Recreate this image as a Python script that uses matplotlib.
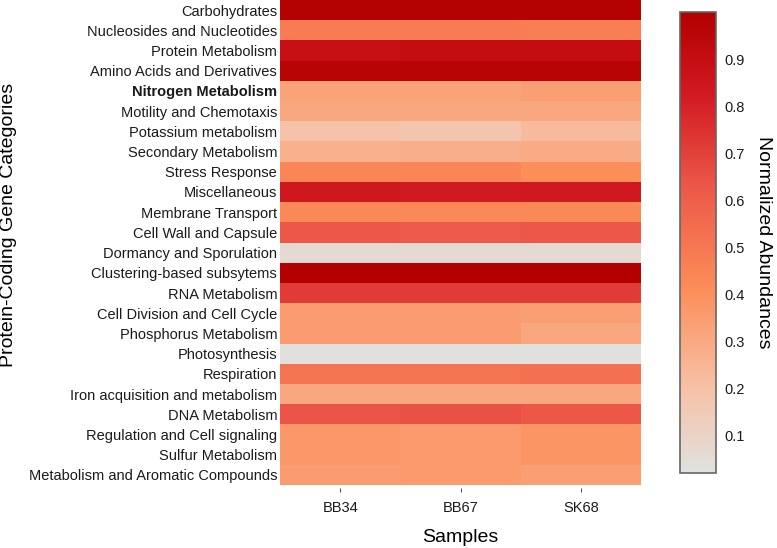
import numpy as np
import matplotlib
matplotlib.use("Agg")
import matplotlib.pyplot as plt
from matplotlib.colors import LinearSegmentedColormap, Normalize

plt.rcParams['font.family'] = ['Liberation Sans', 'DejaVu Sans']

# data
categories = ["Carbohydrates", "Nucleosides and Nucleotides", "Protein Metabolism",
              "Amino Acids and Derivatives", "Nitrogen Metabolism", "Motility and Chemotaxis",
              "Potassium metabolism", "Secondary Metabolism", "Stress Response",
              "Miscellaneous", "Membrane Transport", "Cell Wall and Capsule",
              "Dormancy and Sporulation", "Clustering-based subsytems", "RNA Metabolism",
              "Cell Division and Cell Cycle", "Phosphorus Metabolism", "Photosynthesis",
              "Respiration", "Iron acquisition and metabolism", "DNA Metabolism",
              "Regulation and Cell signaling", "Sulfur Metabolism",
              "Metabolism and Aromatic Compounds"]
samples = ["BB34", "BB67", "SK68"]

bb34 = [0.99, 0.48, 0.89, 0.97, 0.33, 0.31, 0.19, 0.27, 0.44, 0.84, 0.43, 0.63,
        0.06, 1.00, 0.72, 0.35, 0.35, 0.02, 0.52, 0.31, 0.64, 0.37, 0.37, 0.35]
bb67 = [0.99, 0.48, 0.91, 0.97, 0.33, 0.31, 0.18, 0.28, 0.44, 0.83, 0.43, 0.62,
        0.06, 1.00, 0.72, 0.35, 0.35, 0.02, 0.52, 0.31, 0.65, 0.36, 0.36, 0.36]
sk68 = [0.99, 0.47, 0.91, 0.97, 0.34, 0.31, 0.23, 0.29, 0.41, 0.835, 0.43, 0.63,
        0.06, 1.00, 0.72, 0.34, 0.31, 0.02, 0.53, 0.31, 0.63, 0.38, 0.38, 0.34]

cbar_ticks = [0.1, 0.2, 0.3, 0.4, 0.5, 0.6, 0.7, 0.8, 0.9]

data = np.array([bb34, bb67, sk68]).T

cmap = LinearSegmentedColormap.from_list("greyred", [
    (0.00, "#e0e1df"),
    (0.18, "#f6c2a8"),
    (0.40, "#fc8d59"),
    (0.62, "#ec5848"),
    (0.82, "#d21a22"),
    (1.00, "#b30000"),
])
norm = Normalize(vmin=0.02, vmax=1.0)

W, H = 777, 548
fig = plt.figure(figsize=(W/100, H/100), dpi=100)
ax = fig.add_axes([280/W, 1-485/H, 361/W, 485/H])

ax.pcolormesh(np.arange(4), np.arange(len(categories)+1), data, cmap=cmap, norm=norm)
ax.set_xlim(0, 3)
ax.set_ylim(len(categories), 0)
for s in ax.spines.values():
    s.set_visible(False)
ax.spines['bottom'].set_position(('outward', 2.5))

ax.set_yticks(np.arange(len(categories)) + 0.5)
ax.set_yticklabels(categories, fontsize=10.5, color="#1a1a1a")
ax.tick_params(axis='y', length=0, pad=2)
for lbl in ax.get_yticklabels():
    if lbl.get_text() == "Nitrogen Metabolism":
        lbl.set_fontweight("bold")

ax.set_xticks(np.arange(3) + 0.5)
ax.set_xticklabels(samples, fontsize=10.5, color="#1a1a1a")
ax.tick_params(axis='x', length=3, width=0.8, color="#555555", pad=6, direction='out')

ax.set_xlabel("Samples", fontsize=14, labelpad=10)
fig.text(9/W, 1-225/H, "Protein-Coding Gene Categories", fontsize=14,
         rotation=90, ha='center', va='center')

cax = fig.add_axes([680/W, 1-473/H, 36/W, 461/H])
cb = fig.colorbar(matplotlib.cm.ScalarMappable(norm=norm, cmap=cmap), cax=cax, ticks=cbar_ticks)
cb.outline.set_edgecolor("#666666")
cb.outline.set_linewidth(1.2)
cax.tick_params(length=0, labelsize=10.5, pad=6, labelcolor="#1a1a1a")
cb.set_label("Normalized Abundances", fontsize=14, rotation=270, labelpad=20)

fig.savefig("out.png", dpi=100)
